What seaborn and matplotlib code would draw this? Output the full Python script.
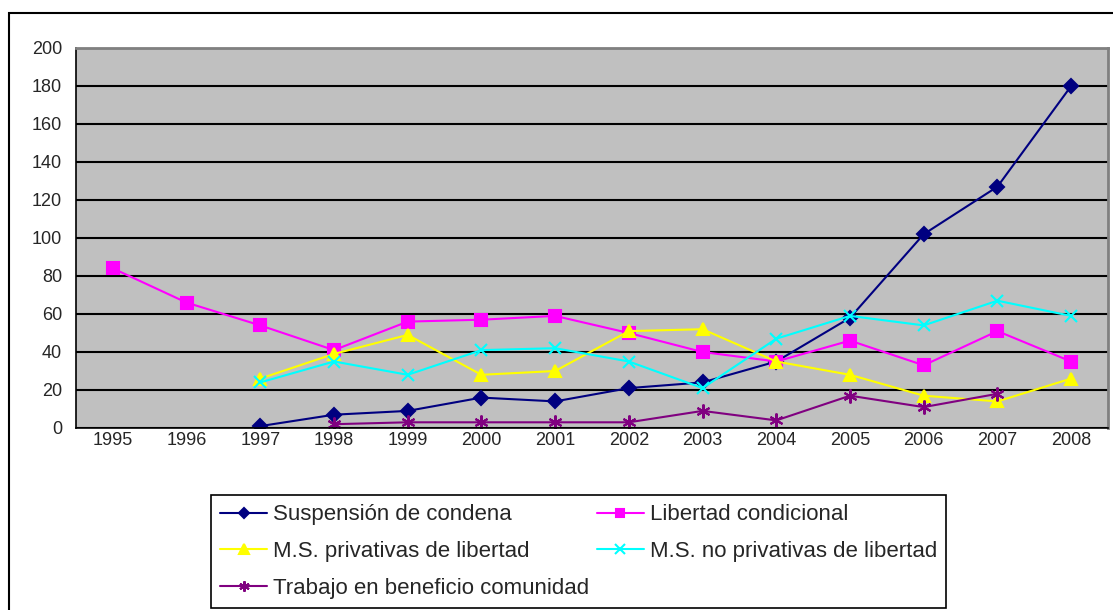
import numpy as np
import pandas as pd
import seaborn as sns
import matplotlib.pyplot as plt
from matplotlib.patches import Rectangle

years = list(range(1995, 2009))

suspension = [np.nan, np.nan, 1, 7, 9, 16, 14, 21, 24, 35, 58, 102, 127, 180]
libertad = [84, 66, 54, 41, 56, 57, 59, 50, 40, 35, 46, 33, 51, 35]
privativas = [np.nan, np.nan, 26, 39, 49, 28, 30, 51, 52, 35, 28, 17, 14, 26]
no_privativas = [np.nan, np.nan, 24, 35, 28, 41, 42, 35, 21, 47, 59, 54, 67, 59]
trabajo = [np.nan, np.nan, np.nan, 2, 3, 3, 3, 3, 9, 4, 17, 11, 18, np.nan]

names = ["Suspensión de condena", "Libertad condicional",
         "M.S. privativas de libertad", "M.S. no privativas de libertad",
         "Trabajo en beneficio comunidad"]
colors = ["#000080", "#FF00FF", "#FFFF00", "#00FFFF", "#800080"]
markers = ["D", "s", "^", "x", (6, 2, 0)]
msizes = [7, 8, 9, 9, 10]

sns.set_style("white")
plt.rcParams['font.family'] = ['Liberation Sans', 'DejaVu Sans']

fig = plt.figure(figsize=(11.13, 6.10), dpi=100)
ax = fig.add_axes([76 / 1113, 182 / 610, 1032 / 1113, 380 / 610])
ax.set_facecolor("#C0C0C0")

# outer chart frame
fig.patches.append(Rectangle((9 / 1113, -0.05), 1.1, (597 / 610) + 0.05,
                             transform=fig.transFigure, fill=False,
                             edgecolor="black", linewidth=1.5, zorder=0))

df = pd.DataFrame({"year": years})
for name, vals, c, m, ms in zip(names, [suspension, libertad, privativas, no_privativas, trabajo],
                                colors, markers, msizes):
    df["value"] = vals
    d = df.dropna()
    x = [years.index(y) for y in d["year"]]
    sns.lineplot(x=x, y=d["value"].values, ax=ax, color=c, marker=m, markersize=ms,
                 markeredgecolor=c, markeredgewidth=1.5, linewidth=1.5, label=name)

ax.set_ylim(0, 200)
ax.set_yticks(range(0, 201, 20))
ax.set_xlim(-0.5, len(years) - 0.5)
ax.set_xticks(range(len(years)))
ax.set_xticklabels([str(y) for y in years])
ax.set_xticks(np.arange(-0.5, len(years), 1), minor=True)
ax.tick_params(axis="x", which="major", length=0, labelsize=13, pad=3)
ax.tick_params(axis="x", which="minor", length=6, width=1, direction="out", color="black")
ax.tick_params(axis="y", length=6, width=1, direction="out", color="black", labelsize=13, pad=4)
ax.yaxis.grid(True, color="black", linewidth=1.5)
ax.set_axisbelow(True)
ax.set_xlabel("")
ax.set_ylabel("")

for s in ["left", "bottom"]:
    ax.spines[s].set_color("black")
    ax.spines[s].set_linewidth(1.2)
for s in ["top", "right"]:
    ax.spines[s].set_color("#808080")
    ax.spines[s].set_linewidth(2)

# row-major legend order like the original
handles, labels = ax.get_legend_handles_labels()
order = [0, 2, 4, 1, 3]
ax.legend([handles[i] for i in order], [labels[i] for i in order],
          loc="upper left", bbox_to_anchor=(211 / 1113, 1 - 495 / 610),
          bbox_transform=fig.transFigure, ncol=2, fontsize=16,
          frameon=True, fancybox=False, edgecolor="black", framealpha=1,
          handlelength=2.1, handletextpad=0.27, borderaxespad=0, borderpad=0.42,
          labelspacing=0.71, columnspacing=0.36, markerscale=0.75)
ax.get_legend().get_frame().set_linewidth(1.2)

fig.savefig("out.png", dpi=100)
